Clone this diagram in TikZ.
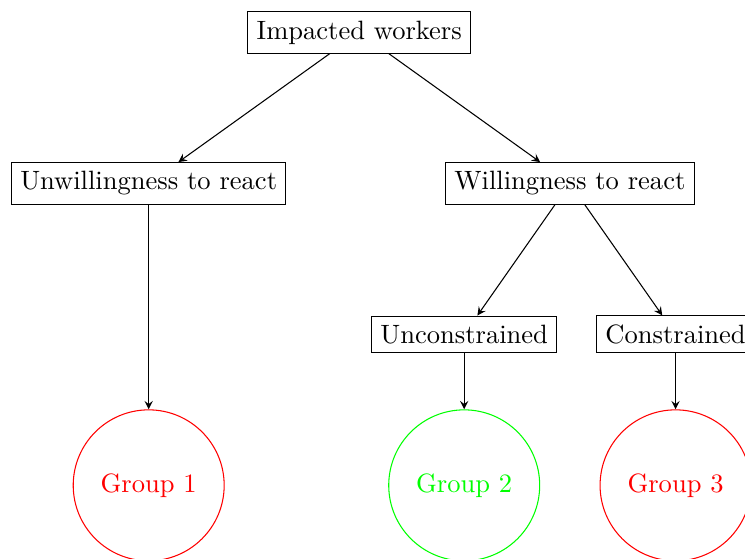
\documentclass[tikz,border=0pt]{standalone}
\usetikzlibrary{arrows}
\begin{document}
\begin{tikzpicture}[>=stealth]
	% spacing of the levels and siblings
	\def\lvl{2}
	\def\wide{2.79}
	\def\narrow{1.4}
	% node style definition
	\tikzstyle{box} = [draw, rectangle];
	\tikzstyle{group} = [draw, circle, minimum size=2cm];
	\useasboundingbox (-4.76,0.43) rectangle (5.11,-6.97);
	\node[box] (impacted) at (0,0) {Impacted workers};
	\node[box] (unwilling) at (-\wide,-\lvl) {Unwillingness to react};
	\node[box] (willing) at (\wide,-\lvl) {Willingness to react};
	\node[box] (uncons) at (\wide-\narrow,-2*\lvl) {Unconstrained};
	\node[box] (cons) at (\wide+\narrow,-2*\lvl) {Constrained};
	\node[group, red] (g1) at (-\wide,-3*\lvl) {Group 1};
	\node[group, green] (g2) at (\wide-\narrow,-3*\lvl) {Group 2};
	\node[group, red] (g3) at (\wide+\narrow,-3*\lvl) {Group 3};
	% edges
	\draw[->] (impacted) -- (unwilling);
	\draw[->] (impacted) -- (willing);
	\draw[->] (unwilling) -- (g1);
	\draw[->] (willing) -- (uncons);
	\draw[->] (willing) -- (cons);
	\draw[->] (uncons) -- (g2);
	\draw[->] (cons) -- (g3);
\end{tikzpicture}
\end{document}
